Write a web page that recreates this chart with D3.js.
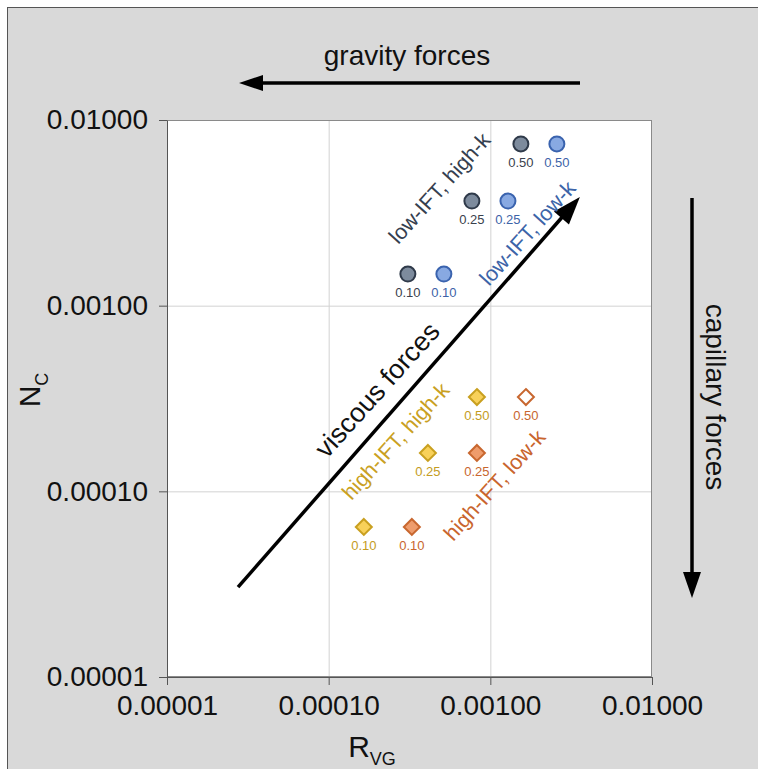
<!DOCTYPE html>
<html>
<head>
<meta charset="utf-8">
<script src="https://d3js.org/d3.v7.min.js"></script>
<style>
body { margin: 0; background: #fff; }
text { font-family: "Liberation Sans", Arial, sans-serif; }
</style>
</head>
<body>
<div id="chart"></div>
<script>
// data
var velocities = ["0.10", "0.25", "0.50"];
var rvgLowIftHighK  = [3.09e-4, 7.69e-4, 1.545e-3];
var rvgLowIftLowK   = [5.16e-4, 1.285e-3, 2.58e-3];
var ncLowIft        = [1.48e-3, 3.66e-3, 7.43e-3];
var rvgHighIftHighK = [1.65e-4, 4.11e-4, 8.26e-4];
var rvgHighIftLowK  = [3.27e-4, 8.26e-4, 1.66e-3];
var ncHighIft       = [6.43e-5, 1.61e-4, 3.22e-4];
var tickValues = [1e-5, 1e-4, 1e-3, 1e-2];

var w = 758, h = 769;
var x = d3.scaleLog().domain([1e-5, 1e-2]).range([167, 652]);
var y = d3.scaleLog().domain([1e-5, 1e-2]).range([677, 120]);

var svg = d3.select("#chart").append("svg")
    .attr("width", w).attr("height", h);

// grey panel
svg.append("rect").attr("x", 7.5).attr("y", 7.5)
    .attr("width", w).attr("height", h)
    .attr("fill", "#d9d9d9").attr("stroke", "#555").attr("stroke-width", 1);

svg.append("rect").attr("x", 167).attr("y", 120)
    .attr("width", 485).attr("height", 557)
    .attr("fill", "#fff");

// grid
var grid = svg.append("g");
grid.selectAll(".gx").data(tickValues.slice(1, 3)).enter().append("line")
    .attr("x1", d => x(d) + 0.5).attr("x2", d => x(d) + 0.5)
    .attr("y1", 120).attr("y2", 677)
    .attr("stroke", "#d2d2d2").attr("stroke-width", 1);
grid.selectAll(".gy").data(tickValues.slice(1, 3)).enter().append("line")
    .attr("y1", d => y(d) + 0.5).attr("y2", d => y(d) + 0.5)
    .attr("x1", 167).attr("x2", 652)
    .attr("stroke", "#d2d2d2").attr("stroke-width", 1);

svg.append("rect").attr("x", 167.5).attr("y", 120.5)
    .attr("width", 484).attr("height", 556)
    .attr("fill", "none").attr("stroke", "#8a8a8a").attr("stroke-width", 1);

// axes
var fmt = d3.format(".5f");
var xAxis = svg.append("g").attr("transform", "translate(0,677)")
    .call(d3.axisBottom(x).tickValues(tickValues).tickFormat(fmt).tickSizeOuter(0).tickSizeInner(8).tickPadding(10));
var yAxis = svg.append("g").attr("transform", "translate(167,0)")
    .call(d3.axisLeft(y).tickValues(tickValues).tickFormat(fmt).tickSizeOuter(0).tickSizeInner(8).tickPadding(11));
[xAxis, yAxis].forEach(function(a) {
  a.select(".domain").attr("stroke", "#555");
  a.selectAll(".tick line").attr("stroke", "#555");
  a.selectAll(".tick text").attr("fill", "#111")
    .style("font-size", "28px").style("font-family", "Liberation Sans, Arial, sans-serif");
});

// axis titles
var xt = svg.append("text").attr("x", 372).attr("y", 757)
    .attr("text-anchor", "middle").attr("fill", "#111").style("font-size", "30px");
xt.append("tspan").text("R");
xt.append("tspan").attr("dy", 8).style("font-size", "18px").text("VG");

var yt = svg.append("text").attr("transform", "translate(40,390) rotate(-90)")
    .attr("text-anchor", "middle").attr("fill", "#111").style("font-size", "30px");
yt.append("tspan").text("N");
yt.append("tspan").attr("dy", 8).style("font-size", "18px").text("C");

// arrows
function arrow(x1, y1, x2, y2, headLen, headW) {
  var a = Math.atan2(y2 - y1, x2 - x1);
  var bx = x2 - headLen * Math.cos(a), by = y2 - headLen * Math.sin(a);
  svg.append("line").attr("x1", x1).attr("y1", y1).attr("x2", bx + Math.cos(a)).attr("y2", by + Math.sin(a))
    .attr("stroke", "#000").attr("stroke-width", 3.5);
  var px = -Math.sin(a) * headW, py = Math.cos(a) * headW;
  svg.append("path")
    .attr("d", "M" + x2 + "," + y2 + "L" + (bx + px) + "," + (by + py) + "L" + (bx - px) + "," + (by - py) + "Z")
    .attr("fill", "#000");
}
arrow(580, 83, 239, 83, 24, 8);
arrow(692, 198, 692, 598, 26, 9);
arrow(x(2.75e-5), y(3.05e-5), x(3.58e-3), y(3.85e-3), 28, 10);

svg.append("text").attr("x", 407).attr("y", 65).attr("text-anchor", "middle")
    .attr("fill", "#111").style("font-size", "28px").text("gravity forces");
svg.append("text").attr("transform", "translate(706,397) rotate(90)").attr("text-anchor", "middle")
    .attr("fill", "#111").style("font-size", "28px").text("capillary forces");
svg.append("text").attr("transform", "translate(384,396) rotate(-48)").attr("text-anchor", "middle")
    .attr("fill", "#111").style("font-size", "27px").text("viscous forces");

// group labels
var groupLabels = [
  {t: "low-IFT, high-k", cx: 445, cy: 193, c: "#35404f"},
  {t: "low-IFT, low-k", cx: 533, cy: 238, c: "#3c64a8"},
  {t: "high-IFT, high-k", cx: 401, cy: 446, c: "#c9a022"},
  {t: "high-IFT, low-k", cx: 500, cy: 490, c: "#c9652e"}
];
svg.selectAll(".glab").data(groupLabels).enter().append("text")
    .attr("transform", d => "translate(" + d.cx + "," + d.cy + ") rotate(-48)")
    .attr("text-anchor", "middle").attr("fill", d => d.c)
    .style("font-size", "21.5px").text(d => d.t);

// series
var series = [
  {xs: rvgLowIftHighK, ys: ncLowIft, shape: "circle", fill: "#7d8b9d", stroke: "#2f3a4a", lab: "#3a414c"},
  {xs: rvgLowIftLowK, ys: ncLowIft, shape: "circle", fill: "#88a9e2", stroke: "#3a63ae", lab: "#3d63a8"},
  {xs: rvgHighIftHighK, ys: ncHighIft, shape: "diamond", fill: "#f8d15a", stroke: "#c9a020", lab: "#c49c22"},
  {xs: rvgHighIftLowK, ys: ncHighIft, shape: "diamond", fill: ["#ee9c6c", "#ee9c6c", "#fff"], stroke: "#c8672f", lab: "#c8662e"}
];

series.forEach(function(s) {
  var pts = s.xs.map(function(v, i) { return {x: v, y: s.ys[i], v: velocities[i], i: i}; });
  var g = svg.append("g");
  if (s.shape === "circle") {
    g.selectAll("circle").data(pts).enter().append("circle")
      .attr("cx", d => x(d.x)).attr("cy", d => y(d.y)).attr("r", 7.5)
      .attr("fill", s.fill).attr("stroke", s.stroke).attr("stroke-width", 2);
  } else {
    g.selectAll("path").data(pts).enter().append("path")
      .attr("transform", d => "translate(" + x(d.x) + "," + y(d.y) + ")")
      .attr("d", "M0,-8L8,0L0,8L-8,0Z")
      .attr("fill", d => Array.isArray(s.fill) ? s.fill[d.i] : s.fill)
      .attr("stroke", s.stroke).attr("stroke-width", 2);
  }
  g.selectAll("text").data(pts).enter().append("text")
    .attr("x", d => x(d.x)).attr("y", d => y(d.y) + 23)
    .attr("text-anchor", "middle").attr("fill", s.lab)
    .style("font-size", "13px").text(d => d.v);
});
</script>
</body>
</html>
